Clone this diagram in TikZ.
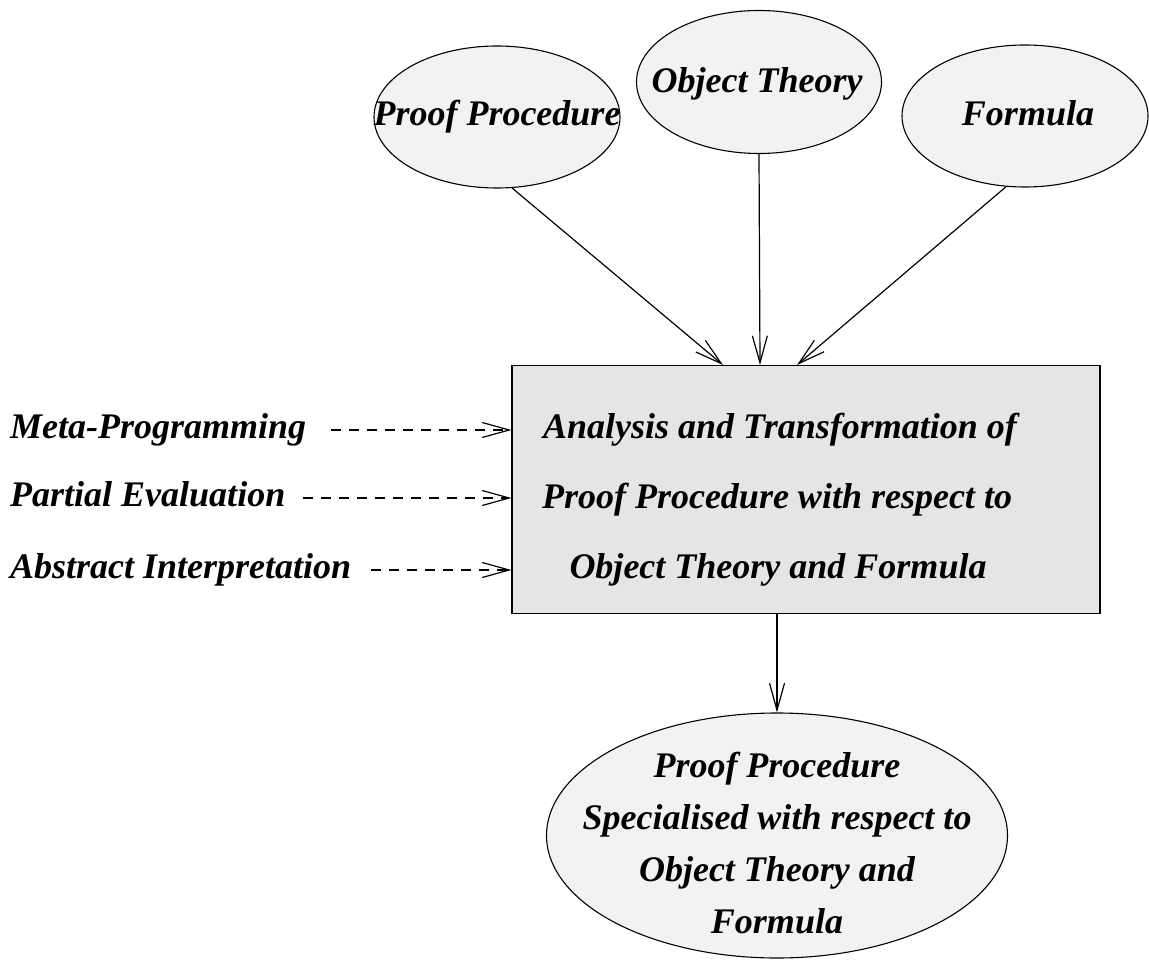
\documentclass[tikz,border=0pt]{standalone}
\usepackage{fontspec}
\setmainfont{Liberation Serif}
\usetikzlibrary{shapes.geometric,arrows.meta}
\begin{document}
\begin{tikzpicture}[x=1pt,y=-1pt,
  lbl/.style={font=\fontsize{36}{52}\selectfont\bfseries\itshape, inner sep=0pt, text height=24pt, text depth=7pt},
  oval/.style={draw, ellipse, fill=black!5, line width=1.1pt, inner sep=0pt},
  arr/.style={line width=1.2pt, -{Straight Barb[length=27pt,width=15pt,line width=1.2pt]}},
  darr/.style={arr, dash pattern=on 10pt off 8pt}]
\useasboundingbox (0,0) rectangle (1149,960);
% top ellipses
\node[oval, minimum width=246pt, minimum height=142pt] (pp) at (497,117) {};
\node[lbl] (ppt) at (497,117) {Proof Procedure};
\node[oval, minimum width=245pt, minimum height=143pt] (ot) at (759,82) {};
\node[lbl] (ott) at (757,84) {Object Theory};
\node[oval, minimum width=246pt, minimum height=142pt] (fm) at (1025,116) {};
\node[lbl] (fmt) at (1028,117) {Formula};
% box
\node[draw, fill=black!10, line width=1.1pt, minimum width=588pt, minimum height=248pt, inner sep=0pt] (box) at (806,489.5) {};
\node[lbl] (b1) at (780,430) {Analysis and Transformation of};
\node[lbl] (b2) at (777,500) {Proof Procedure with respect to};
\node[lbl] (b3) at (778,570) {Object Theory and Formula};
\coordinate (t1) at (723,365);
\coordinate (t2) at (760,365);
\coordinate (t3) at (797,365);
\coordinate (bo) at (777,613);
% left labels
\node[lbl, anchor=west] (mp) at (10,430) {Meta-Programming};
\node[lbl, anchor=west] (pe) at (10,498) {Partial Evaluation};
\node[lbl, anchor=west] (ai) at (10,570) {Abstract Interpretation};
% result ellipse
\node[oval, minimum width=461pt, minimum height=245pt] (res) at (777,835.5) {};
\node[lbl, align=center, text height=, text depth=] (rest) at (777,843) {Proof Procedure\\Specialised with respect to\\Object Theory and\\Formula};
% connectors
\draw[arr] (pp.-78) -- (t1);
\draw[arr] (ot.south) -- (t2);
\draw[arr] (fm.-105) -- (t3);
\draw[arr] (bo) -- (res.north);
\draw[darr] ([xshift=25pt]mp.east) -- (mp.east -| box.west);
\draw[darr] ([xshift=18pt]pe.east) -- (pe.east -| box.west);
\draw[darr] ([xshift=20pt]ai.east) -- (ai.east -| box.west);
\end{tikzpicture}
\end{document}
